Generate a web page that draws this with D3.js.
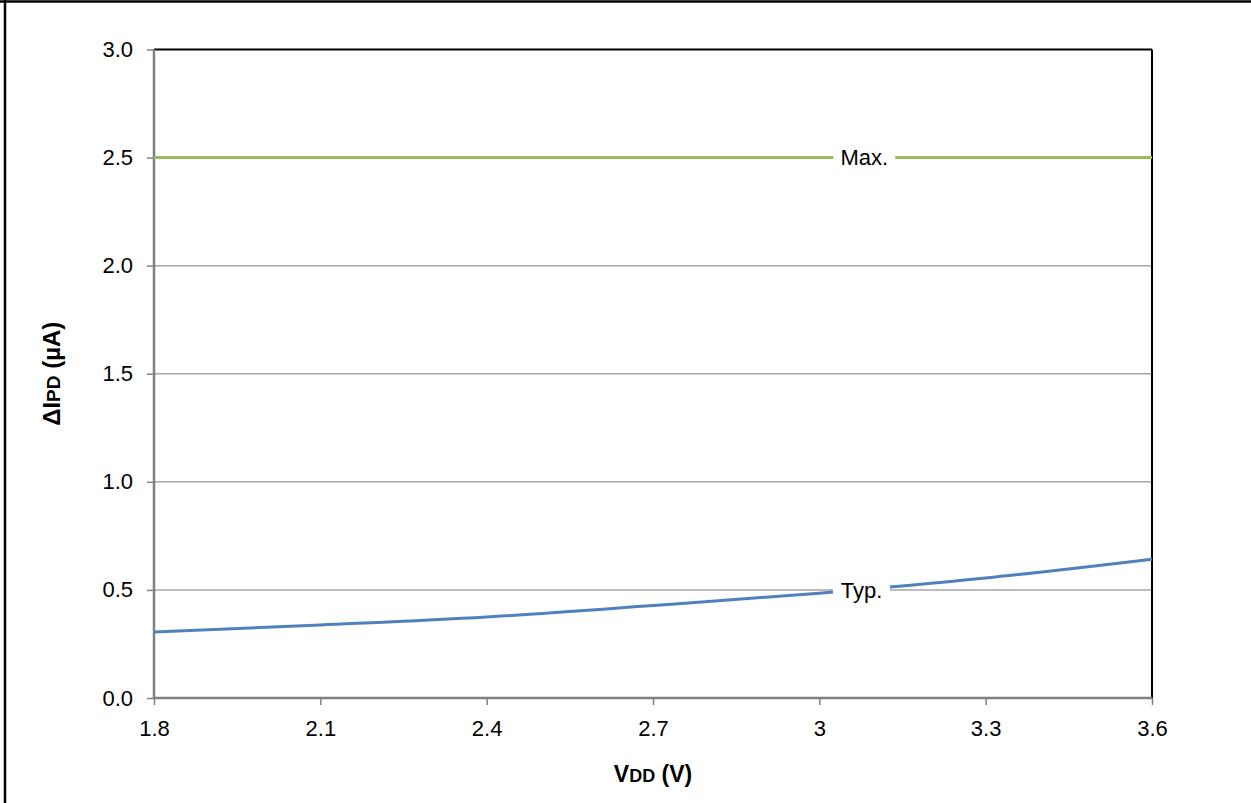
<!DOCTYPE html>
<html><head><meta charset="utf-8">
<script src="https://cdn.jsdelivr.net/npm/d3@7"></script>
<style>body{margin:0;background:#fff}svg{display:block;font-family:"Liberation Sans",Arial,sans-serif}</style>
</head><body><svg id="c" width="1251" height="803"></svg>
<script>
const vdd = [1.8, 2.1, 2.4, 2.7, 3.0, 3.3, 3.6];
const typ = [0.305, 0.338, 0.375, 0.428, 0.485, 0.555, 0.642];
const maxVal = [2.5, 2.5, 2.5, 2.5, 2.5, 2.5, 2.5];
const xTicks = [1.8, 2.1, 2.4, 2.7, 3.0, 3.3, 3.6];
const xTickLabels = ["1.8", "2.1", "2.4", "2.7", "3", "3.3", "3.6"];
const yTicks = [0, 0.5, 1.0, 1.5, 2.0, 2.5, 3.0];

const svg = d3.select("#c");
const L = 154, R = 1152, T = 49.5, B = 698;
const x = d3.scaleLinear().domain([1.8, 3.6]).range([L, R]);
const y = d3.scaleLinear().domain([0, 3]).range([B, T]);

// outer frame
svg.append("line").attr("x1",5).attr("x2",5).attr("y1",0).attr("y2",803).attr("stroke","#000").attr("stroke-width",2.5);
svg.append("line").attr("x1",0).attr("x2",1251).attr("y1",1.5).attr("y2",1.5).attr("stroke","#000").attr("stroke-width",2.5);

// gridlines
svg.append("g").selectAll("line").data(yTicks.filter(d=>d>0&&d<3)).join("line")
  .attr("x1",L).attr("x2",R).attr("y1",d=>y(d)).attr("y2",d=>y(d))
  .attr("stroke","#a6a6a6").attr("stroke-width",1.5);

// top & right border
svg.append("line").attr("x1",L).attr("x2",R).attr("y1",T).attr("y2",T).attr("stroke","#000").attr("stroke-width",2);
svg.append("line").attr("x1",R).attr("x2",R).attr("y1",T).attr("y2",B).attr("stroke","#000").attr("stroke-width",2);

// axes
const yAxis = d3.axisLeft(y).tickValues(yTicks).tickFormat(d3.format(".1f")).tickSize(7).tickPadding(14);
const gy = svg.append("g").attr("transform",`translate(${L},0)`).call(yAxis);
const xAxis = d3.axisBottom(x).tickValues(xTicks).tickFormat((d,i)=>xTickLabels[i]).tickSize(7).tickPadding(15);
const gx = svg.append("g").attr("transform",`translate(0,${B})`).call(xAxis);
[gx, gy].forEach(g=>{
  g.attr("font-size",null).attr("font-family",null);
  g.select(".domain").attr("stroke","#808080").attr("stroke-width",2.5);
  g.selectAll(".tick line").attr("stroke","#808080").attr("stroke-width",1.5);
  g.selectAll(".tick text").attr("fill","#000").style("font-size","22px").style("font-family","'Liberation Sans',Arial,sans-serif");
});
gx.select(".domain").attr("d",`M${L},0H${R}`);
gy.select(".domain").attr("d",`M0,${B}V${T}`);

// series
const line = d3.line().x((d,i)=>x(vdd[i])).y(d=>y(d)).curve(d3.curveMonotoneX);
svg.append("path").datum(maxVal).attr("d",line).attr("fill","none").attr("stroke","#9bbb59").attr("stroke-width",3);
svg.append("path").datum(typ).attr("d",line).attr("fill","none").attr("stroke","#4f81bd").attr("stroke-width",3);

// data labels
function label(txt, cx, cy, w){
  svg.append("rect").attr("x",cx-w/2).attr("y",cy-13).attr("width",w).attr("height",26).attr("fill","#fff");
  svg.append("text").attr("x",cx).attr("y",cy).attr("dy","0.35em").attr("text-anchor","middle")
    .style("font-size","22px").text(txt);
}
label("Max.", x(3.081), y(2.5), 62);
label("Typ.", x(3.076), y(0.5), 57);

// axis titles
const yt = svg.append("text").attr("transform",`translate(60,${(T+B)/2}) rotate(-90)`).attr("text-anchor","middle")
  .style("font-size","24px").style("font-weight","bold");
yt.append("tspan").text("\u0394I");
yt.append("tspan").text("PD").style("font-size","19px");
yt.append("tspan").text(" (\u00b5A)");

const xt = svg.append("text").attr("x",653).attr("y",782).attr("text-anchor","middle")
  .style("font-size","23px").style("font-weight","bold");
xt.append("tspan").text("V");
xt.append("tspan").text("DD").style("font-size","18px");
xt.append("tspan").text(" (V)");
</script></body></html>
